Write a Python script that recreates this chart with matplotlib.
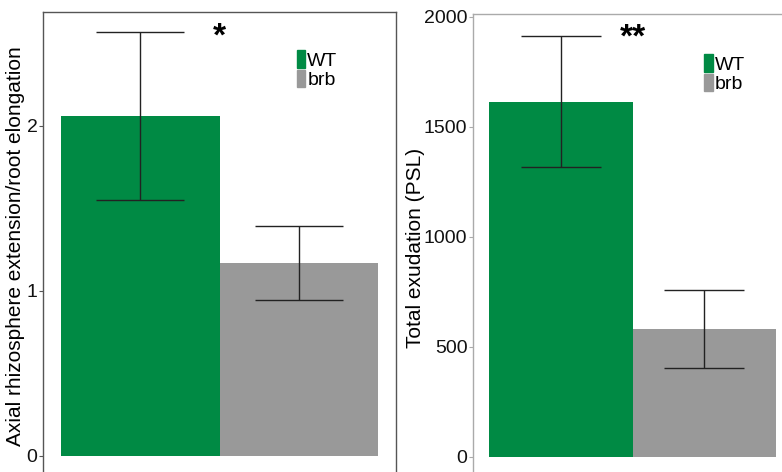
import matplotlib.pyplot as plt
from matplotlib.patches import Patch

plt.rcParams['font.family'] = ['Liberation Sans', 'DejaVu Sans']

genotypes = ['WT', 'brb']
colors = ['#008a44', '#999999']

# left panel: axial rhizosphere extension / root elongation
axial_mean = [2.06, 1.17]
axial_err = [0.51, 0.225]

# right panel: total exudation (PSL)
exud_mean = [1615, 582]
exud_err = [300, 177]

W, H = 782, 472
fig = plt.figure(figsize=(W / 100, H / 100), dpi=100)


def px_axes(l, r, t, b):
    return fig.add_axes([l / W, 1 - b / H, (r - l) / W, (b - t) / H])


def panel(ax, means, errs, capsize, spine_col):
    x = range(len(means))
    ax.bar(x, means, width=1.0, color=colors, edgecolor='none')
    ax.errorbar(x, means, yerr=errs, fmt='none', ecolor='#222222',
                elinewidth=1.0, capsize=capsize, capthick=1.0)
    for s in ['left', 'top', 'right']:
        ax.spines[s].set_color(spine_col)
        ax.spines[s].set_linewidth(1.0)
    ax.spines['bottom'].set_visible(False)
    ax.set_xticks([])
    ax.tick_params(axis='y', length=3, width=0.8, color=spine_col,
                   labelsize=14, pad=1, labelcolor='#111111')
    handles = [Patch(color=c, label=g) for c, g in zip(colors, genotypes)]
    ax.legend(handles=handles, loc='upper left', frameon=False,
              handlelength=0.42, handleheight=1.0, handletextpad=0.1,
              labelspacing=0.0, borderpad=0, borderaxespad=0,
              fontsize=14)


ax1 = px_axes(43, 396, 12, 472)
panel(ax1, axial_mean, axial_err, 31.5, '#555555')
ax1.set_xlim(-0.614, 1.614)
ax1.set_ylim(-0.1, 2.69)
ax1.set_yticks([0, 1, 2])
ax1.set_ylabel('Axial rhizosphere extension/root elongation', fontsize=15)
ax1.yaxis.set_label_coords(-0.05, 0.49)
ax1.text(0.5, 2.54, '*', ha='center', va='center', fontsize=24,
         fontweight='bold')
ax1.get_legend().set_bbox_to_anchor((0.72, 0.917))

ax2 = px_axes(473, 790, 14, 472)
panel(ax2, exud_mean, exud_err, 28.5, '#aaaaaa')
ax2.spines['right'].set_visible(False)
ax2.set_xlim(-0.612, 1.598)
ax2.set_ylim(-70, 2013)
ax2.set_yticks([0, 500, 1000, 1500, 2000])
ax2.set_ylabel('Total exudation (PSL)', fontsize=15)
ax2.yaxis.set_label_coords(-0.151, 0.49)
ax2.text(0.5, 1905, '**', ha='center', va='center', fontsize=24,
         fontweight='bold')
ax2.get_legend().set_bbox_to_anchor((0.73, 0.912))

fig.savefig('out.png', dpi=100)
